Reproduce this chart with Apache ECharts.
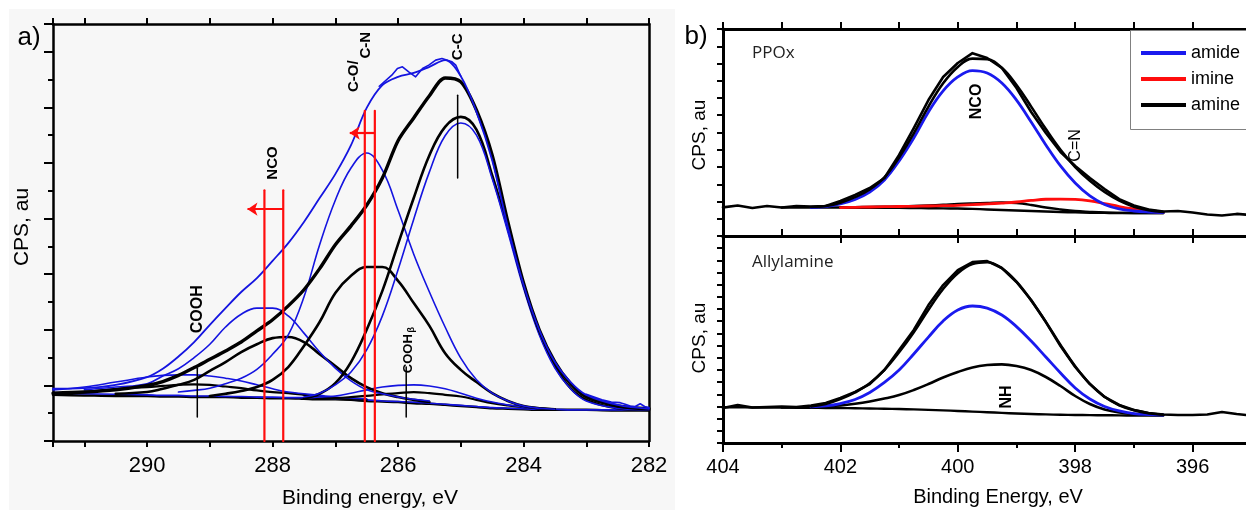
<!DOCTYPE html>
<html><head><meta charset="utf-8">
<script src="https://cdn.jsdelivr.net/npm/echarts@6/dist/echarts.min.js"></script>
<style>html,body{margin:0;padding:0;background:#fff}#c{width:1246px;height:510px}</style>
</head><body><div id="c"></div>
<script>
// ---------------- Panel a (C 1s) ----------------
const A_X = [291.5,291,290.5,290,289.75,289.5,289.25,289,288.75,288.5,288.25,288,287.75,287.5,287.25,287,286.75,286.5,286.25,286,285.75,285.5,285.25,285,284.75,284.5,284.25,284,283.75,283.5,283.25,283,282.5,282];
const A_TICKS = [290,288,286,284,282];
const A_BG_K = [0.83,0.82,0.81,0.81,0.80,0.80,0.79,0.79,0.79,0.78,0.78,0.77,0.77,0.76,0.75,0.75,0.74,0.72,0.71,0.70,0.68,0.67,0.65,0.63,0.61,0.59,0.58,0.57,0.56,0.56,0.56,0.56,0.55,0.55];
const A_BG_B = [0.87,0.85,0.84,0.83,0.82,0.82,0.81,0.81,0.80,0.80,0.79,0.79,0.78,0.78,0.77,0.76,0.75,0.74,0.72,0.71,0.70,0.68,0.66,0.64,0.62,0.60,0.59,0.58,0.57,0.57,0.56,0.56,0.56,0.56];
const A_CC_K = [null,null,null,null,null, null,null,null,null,null, null,null,null,
  0.77,0.85,1.04,1.42,2.0,2.70,3.54,4.37,5.14,5.65,5.83,5.60,4.78,3.83,2.82,1.96,1.35,0.95,0.74,0.59,0.56];
const A_CC_B = [null,null,null,null,null, null,null,null,null,null, null,null,null,
  0.79,0.86,1.01,1.24,1.64,2.25,3.08,3.99,4.84,5.49,5.72,5.50,4.72,3.76,2.75,1.91,1.31,0.94,0.72,0.59,0.56];
const A_CO_B = [null,null,null,null,null,
  0.88,0.91,0.95,1.03,1.13,1.29,1.56,1.91,2.59,3.53,4.33,4.91,5.18,4.87,4.15,3.36,2.68,2.05,1.49,1.10,0.86,0.72,0.63,0.59,0.57,
  null,null,null,null];
const A_CO_K = [null,null,null,null,null, null,null,
  0.81,0.85,0.90,0.97,1.10,1.33,1.71,2.14,2.66,2.97,3.13,3.13,2.88,2.48,2.07,1.58,1.28,1.06,0.86,0.72,0.63,0.59,0.57,
  null,null,null,null];
const A_NCO_B = [null,
  0.92,0.97,1.03,1.17,1.30,1.50,1.74,2.05,2.28,2.39,2.39,2.25,1.94,1.60,1.31,1.08,0.92,0.85,0.79,0.75,0.72,
  null,null,null,null,null, null,null,null,null,null, null,null];
const A_NCO_K = [null,null,
  0.85,0.88,0.94,1.01,1.10,1.26,1.42,1.60,1.74,1.85,1.87,1.78,1.56,1.35,1.13,0.97,0.86,0.79,0.74,0.70,
  null,null,null,null,null, null,null,null,null,null, null,null];
const A_COOH_B = [0.92,0.97,1.06,1.15,1.18,1.19,1.19,1.17,1.13,1.08,1.01,0.94,0.88,0.85,0.82,0.79,0.77,0.76,
  null,null,null,null,null, null,null,null,null,null, null,null,null,null,null, null];
const A_COOH_K = [0.85,0.88,0.94,0.97,0.99,1.01,1.02,1.01,0.98,0.95,0.91,0.88,0.86,0.83,0.80,0.77,0.75,0.74,
  null,null,null,null,null, null,null,null,null,null, null,null,null,null,null, null];
const A_COOHB_B = [null,null,null,null,null, null,null,null,null,null, null,null,null,
  0.77,0.79,0.81,0.86,0.92,0.97,1.00,1.01,0.99,0.94,0.86,0.77,0.70,0.65,0.61,0.59,0.57,
  null,null,null,null];
const A_COOHB_K = [null,null,null,null,null, null,null,null,null,null, null,null,null,
  0.76,0.76,0.77,0.79,0.81,0.84,0.86,0.88,0.86,0.83,0.80,0.74,0.68,0.64,0.61,0.59,0.57,
  null,null,null,null];
const A_ENV_B = [0.94,0.95,1.01,1.15,1.30,1.52,1.78,2.09,2.39,2.68,2.93,3.24,3.56,3.94,4.37,4.80,5.32,5.99,6.40,6.55,6.62,6.73,6.85,6.56,5.92,5.05,3.85,2.81,2.00,1.42,1.06,0.83,0.65,0.58];
const A_ENV_K = [0.86,0.88,0.92,1.0,1.07,1.18,1.32,1.47,1.62,1.78,1.98,2.18,2.43,2.72,3.10,3.53,3.87,4.24,4.73,5.40,5.81,6.21,6.53,6.46,5.95,5.14,3.94,2.84,2.00,1.42,1.03,0.79,0.63,0.58];
const A_NOISE_X = [286.3,286.1,286.01,285.93,285.83,285.72,285.61,285.51,285.4,285.3,285.14,285.08,285.0];
const A_NOISE_Y = [6.38,6.58,6.70,6.73,6.64,6.55,6.70,6.76,6.85,6.88,6.82,6.76,6.56];
const A_TAIL_X = [283.0,282.75,282.6,282.46,282.38,282.3,282.22,282.14,282.07,282.0];
const A_TAIL_Y = [0.84,0.74,0.70,0.69,0.66,0.63,0.62,0.67,0.62,0.60];
// red shift markers: x, top y
const A_RED_X = [288.13,287.83,286.53,286.37];
const A_RED_TOP = [4.51,4.51,5.94,5.94];
// arrows: from x, to x, y
const A_ARROW_FROM = [287.83,286.37];
const A_ARROW_TO = [288.40,286.77];
const A_ARROW_Y = [4.17,5.54];
// black position lines: x, y0, y1
const A_POS_X = [285.05,289.2,285.87];
const A_POS_Y0 = [4.73,0.43,0.43];
const A_POS_Y1 = [6.22,1.31,1.33];

// ---------------- Panel b (N 1s) ----------------
const B_X = [404,403.75,403.5,403.25,403,402.75,402.5,402.25,402,401.75,401.5,401.25,401,400.75,400.5,400.25,400,399.75,399.5,399.25,399,398.75,398.5,398.25,398,397.75,397.5,397.25,397,396.75,396.5,396.25,396,395.75,395.5,395.25,395];
const B_TICKS = [404,402,400,398,396];
const B_LEGEND = ['amide','imine','amine'];
const B1_DATA = [1.66,1.77,1.62,1.74,1.65,1.74,1.71,1.74,2.03,2.38,2.78,3.36,4.70,6.26,7.88,9.22,10.03,10.60,10.32,9.74,8.58,7.19,5.97,4.87,4.06,3.36,2.72,2.14,1.77,1.54,1.42,1.45,1.36,1.25,1.19,1.28,1.22];
const B1_FIT = [null,null,null,null,null, null,
  1.68,1.74,1.93,2.25,2.70,3.40,4.55,5.95,7.50,8.85,9.80,10.28,10.25,9.75,8.75,7.50,6.20,5.00,4.00,3.20,2.55,2.05,1.70,1.50,1.40,
  null,null,null,null,null, null];
const B1_AMIDE = [null,null,null,null,null, null,
  1.65,1.71,1.86,2.12,2.55,3.25,4.35,5.68,7.19,8.41,9.22,9.59,9.45,8.87,7.88,6.61,5.28,4.06,3.07,2.32,1.83,1.57,1.45,1.39,1.36,
  null,null,null,null,null, null];
const B1_IMINE = [null,null,null,null,null, null,null,null,
  1.65,1.66,1.68,1.70,1.71,1.72,1.74,1.76,1.78,1.82,1.86,1.91,1.97,2.06,2.13,2.14,2.12,2.03,1.88,1.71,1.57,1.45,1.37,
  null,null,null,null,null, null];
const B1_AMINE = [null,null,null,null,null, null,null,null,
  1.65,1.67,1.69,1.70,1.71,1.74,1.77,1.81,1.86,1.89,1.91,1.94,1.91,1.80,1.65,1.54,1.45,1.40,1.36,1.34,1.33,1.33,1.33,
  null,null,null,null,null, null];
const B1_BG = [null,null,null,null,
  1.65,1.65,1.65,1.65,1.65,1.64,1.64,1.63,1.63,1.62,1.61,1.60,1.59,1.57,1.54,1.51,1.48,1.45,1.42,1.39,1.37,1.35,1.34,1.33,1.33,1.33,1.33,
  null,null,null,null,null, null];
const B2_DATA = [2.87,3.12,2.91,2.96,3.00,2.96,3.08,3.28,3.69,4.19,4.84,5.99,7.64,9.28,11.33,12.97,14.20,14.86,14.94,14.37,13.22,11.74,9.93,7.96,6.24,4.84,3.78,3.12,2.71,2.46,2.34,2.30,2.30,2.34,2.55,2.38,2.26];
const B2_FIT = [null,null,null,null,null, null,
  3.00,3.20,3.60,4.15,4.90,6.00,7.45,9.10,10.95,12.65,13.95,14.70,14.85,14.35,13.25,11.70,9.95,8.05,6.30,4.85,3.80,3.10,2.70,2.45,2.32,
  null,null,null,null,null, null];
const B2_AMIDE = [null,null,null,null,null, null,
  2.96,3.04,3.24,3.57,4.15,4.97,5.99,7.31,8.70,10.02,10.92,11.25,11.08,10.51,9.56,8.37,7.06,5.75,4.52,3.61,3.00,2.63,2.42,2.34,2.30,
  null,null,null,null,null, null];
const B2_NH = [null,null,null,null,
  2.91,2.93,2.96,3.01,3.08,3.22,3.41,3.65,3.94,4.35,4.84,5.38,5.83,6.20,6.40,6.46,6.32,5.99,5.42,4.68,3.86,3.20,2.75,2.50,2.38,2.33,2.30,
  null,null,null,null,null, null];
const B2_BG = [2.93,2.93,2.92,2.92,2.91,2.90,2.89,2.88,2.87,2.85,2.83,2.81,2.79,2.76,2.72,2.68,2.63,2.58,2.53,2.47,2.42,2.38,2.35,2.32,2.30,2.29,2.28,2.27,2.26,2.26,2.26,
  null,null,null,null,null, null];

// ---------------- chart ----------------
const F = '"Liberation Sans", Arial, sans-serif';
const BLUE_A = '#1414e0', BLUE_B = '#1a1aee', RED = '#ff0d0d', BLK = '#000';
const chart = echarts.init(document.getElementById('c'));

function pts(xs, ys){ const o=[]; for(let i=0;i<xs.length;i++){ if(ys[i]!=null) o.push([xs[i], ys[i]]); } return o; }
function ln(name, xs, ys, color, width, xi, yi, smooth, z){
  return {type:'line', name:name, data:pts(xs,ys), xAxisIndex:xi, yAxisIndex:yi, symbol:'none', showSymbol:false,
    smooth:smooth, lineStyle:{color:color, width:width, cap:'round', join:'round'}, itemStyle:{color:color}, z:z||2, silent:true};
}
const axLine = w => ({show:true, onZero:false, lineStyle:{color:BLK, width:w}});
const tick = (len, inside, w) => ({show:true, inside:!!inside, length:len, lineStyle:{color:BLK, width:w||2}});
const noLab = {show:false};
const noSplit = {show:false};

const series = [];
series.push(ln('a-bgk', A_X, A_BG_K, BLK, 2.5, 0, 0, 0.3));
series.push(ln('a-bgb', A_X, A_BG_B, BLUE_A, 1.6, 0, 0, 0.3));
series.push(ln('a-cook', A_X, A_COOH_K, BLK, 2.2, 0, 0, 0.4));
series.push(ln('a-coob', A_X, A_COOH_B, BLUE_A, 1.6, 0, 0, 0.4));
series.push(ln('a-coobk', A_X, A_COOHB_K, BLK, 2.2, 0, 0, 0.4));
series.push(ln('a-coobb', A_X, A_COOHB_B, BLUE_A, 1.6, 0, 0, 0.4));
series.push(ln('a-ncok', A_X, A_NCO_K, BLK, 2.6, 0, 0, 0.4));
series.push(ln('a-ncob', A_X, A_NCO_B, BLUE_A, 1.6, 0, 0, 0.4));
series.push(ln('a-cok', A_X, A_CO_K, BLK, 2.6, 0, 0, 0.4));
series.push(ln('a-cob', A_X, A_CO_B, BLUE_A, 1.6, 0, 0, 0.4));
series.push(ln('a-cck', A_X, A_CC_K, BLK, 2.6, 0, 0, 0.4));
series.push(ln('a-ccb', A_X, A_CC_B, BLUE_A, 1.6, 0, 0, 0.4));
series.push(ln('a-envk', A_X, A_ENV_K, BLK, 3.4, 0, 0, 0.3));
series.push(ln('a-envb', A_X, A_ENV_B, BLUE_A, 1.8, 0, 0, 0.35));
series.push(ln('a-noise', A_NOISE_X, A_NOISE_Y, BLUE_A, 1.6, 0, 0, false));
series.push(ln('a-tail', A_TAIL_X, A_TAIL_Y, BLUE_A, 1.6, 0, 0, false));
for (let i=0;i<A_POS_X.length;i++){
  series.push(ln('a-pos'+i, [A_POS_X[i],A_POS_X[i]], [A_POS_Y0[i],A_POS_Y1[i]], BLK, 1.5, 0, 0, false, 5));
}
for (let i=0;i<A_RED_X.length;i++){
  series.push(ln('a-red'+i, [A_RED_X[i],A_RED_X[i]], [0,A_RED_TOP[i]], RED, 2.2, 0, 0, false, 6));
}
series.push({type:'line', name:'a-arrows', data:[[A_ARROW_FROM[0], A_ARROW_Y[0]]], symbol:'none', showSymbol:false,
  lineStyle:{width:0, opacity:0}, xAxisIndex:0, yAxisIndex:0, silent:true, z:6,
  markLine:{silent:true, animation:false, symbol:['none','arrow'], symbolSize:10, label:{show:false},
    lineStyle:{color:RED, width:2.2, type:'solid'}, itemStyle:{color:RED},
    data: A_ARROW_Y.map((y,i)=>[{coord:[A_ARROW_FROM[i], y]},{coord:[A_ARROW_TO[i], y]}])}});

series.push(ln('b1-bg', B_X, B1_BG, BLK, 2.4, 2, 3, 0.3));
series.push(ln('amine', B_X, B1_AMINE, BLK, 2.4, 2, 3, 0.4));
series.push(ln('imine', B_X, B1_IMINE, RED, 2.8, 2, 3, 0.4, 3));
series.push(ln('amide', B_X, B1_AMIDE, BLUE_B, 2.8, 2, 3, 0.4, 3));
series.push(ln('b1-fit', B_X, B1_FIT, BLK, 2.6, 2, 3, 0.4, 4));
series.push(ln('b1-data', B_X, B1_DATA, BLK, 2.6, 2, 3, false, 4));
series.push(ln('b2-bg', B_X, B2_BG, BLK, 2.4, 5, 4, 0.3));
series.push(ln('amine', B_X, B2_NH, BLK, 2.6, 5, 4, 0.4));
series.push(ln('amide', B_X, B2_AMIDE, BLUE_B, 2.8, 5, 4, 0.4, 3));
series.push(ln('b2-fit', B_X, B2_FIT, BLK, 2.6, 5, 4, 0.4, 4));
series.push(ln('b2-data', B_X, B2_DATA, BLK, 2.6, 5, 4, false, 4));

const option = {
  animation:false,
  backgroundColor:'#ffffff',
  grid:[
    {left:53, top:24, width:596, height:417, outerBoundsMode:'none', containLabel:false},
    {left:723, top:29, width:587, height:207, outerBoundsMode:'none', containLabel:false},
    {left:723, top:236, width:587, height:207, outerBoundsMode:'none', containLabel:false}
  ],
  legend:{data:B_LEGEND, orient:'vertical', left:1141, top:44, padding:0,
    itemWidth:45, itemHeight:4, itemGap:8, icon:'rect', selectedMode:false, z:10,
    textStyle:{fontFamily:F, fontSize:18, color:BLK}},
  xAxis:[
    {gridIndex:0, type:'value', position:'bottom', min:282, max:291.5, interval:1, inverse:true,
      axisLine:axLine(2.5), axisTick:tick(6), splitLine:noSplit,
      axisLabel:{formatter:v => (A_TICKS.indexOf(v) >= 0 ? String(v) : ''), fontFamily:F, fontSize:22, color:BLK, margin:14}},
    {gridIndex:0, type:'value', position:'top', min:282, max:291.5, interval:1, inverse:true,
      axisLine:axLine(2.5), axisTick:tick(6), splitLine:noSplit, axisLabel:noLab},
    {gridIndex:1, type:'value', position:'top', min:394, max:404, interval:1, inverse:true,
      axisLine:axLine(3), axisTick:tick(7), splitLine:noSplit, axisLabel:noLab},
    {gridIndex:1, type:'value', position:'bottom', min:394, max:404, interval:1, inverse:true,
      axisLine:axLine(3), axisTick:tick(7, true), splitLine:noSplit, axisLabel:noLab},
    {gridIndex:2, type:'value', position:'top', min:394, max:404, interval:2, inverse:true,
      axisLine:axLine(3), axisTick:tick(7, true), splitLine:noSplit, axisLabel:noLab},
    {gridIndex:2, type:'value', position:'bottom', min:394, max:404, interval:2, inverse:true,
      axisLine:axLine(3), axisTick:tick(9), splitLine:noSplit,
      axisLabel:{formatter:v => (B_TICKS.indexOf(v) >= 0 ? String(v) : ''), fontFamily:F, fontSize:20, color:BLK, margin:14}},
    {gridIndex:2, type:'value', position:'bottom', min:394, max:404, interval:1, inverse:true,
      axisLine:{show:false, onZero:false}, axisTick:tick(5), splitLine:noSplit, axisLabel:noLab}
  ],
  yAxis:[
    {gridIndex:0, type:'value', position:'left', min:0, max:7.5, interval:1,
      axisLine:axLine(2.5), axisTick:tick(9), splitLine:noSplit, axisLabel:noLab},
    {gridIndex:0, type:'value', position:'left', min:0, max:7.5, interval:0.5,
      axisLine:{show:false, onZero:false}, axisTick:tick(5), splitLine:noSplit, axisLabel:noLab},
    {gridIndex:0, type:'value', position:'right', min:0, max:7.5,
      axisLine:axLine(2.5), axisTick:{show:false}, splitLine:noSplit, axisLabel:noLab},
    {gridIndex:1, type:'value', position:'left', min:0, max:12, interval:1,
      axisLine:axLine(3), axisTick:tick(6), splitLine:noSplit, axisLabel:noLab},
    {gridIndex:2, type:'value', position:'left', min:0, max:17, interval:1,
      axisLine:axLine(3), axisTick:tick(6), splitLine:noSplit, axisLabel:noLab}
  ],
  series:series
};
chart.setOption(option);

const R = Math.PI/2;
function txt(text, x, y, size, opts){
  opts = opts || {};
  return {type:'text', x:x, y:y, rotation:opts.rot||0, z:100, silent:true,
    style:{text:text, fill:opts.color||BLK, font:(opts.bold?'bold ':'')+size+'px '+(opts.family||F),
      align:opts.align||'center', verticalAlign:'middle'}};
}
function pA(x,y){ return chart.convertToPixel({xAxisIndex:0, yAxisIndex:0}, [x,y]); }
function pB1(x,y){ return chart.convertToPixel({xAxisIndex:2, yAxisIndex:3}, [x,y]); }
function pB2(x,y){ return chart.convertToPixel({xAxisIndex:5, yAxisIndex:4}, [x,y]); }

const g = [];
g.push({type:'rect', shape:{x:9, y:9, width:666, height:501}, style:{fill:'#f7f7f7'}, z:-100, silent:true});
// legend frame (extends past the right edge like the original)
g.push({type:'rect', shape:{x:1130.5, y:30.5, width:140, height:99}, style:{fill:'#fff', stroke:'#808080', lineWidth:1}, z:8, silent:true});
let p;
p = pA(287.99, 5.0);  g.push(txt('NCO', p[0], p[1], 15, {bold:true, rot:R}));
p = pA(289.2, 2.37);  g.push(txt('COOH', p[0], p[1], 16, {bold:true, rot:R}));
p = pA(286.70, 6.56); g.push(txt('C-O/', p[0], p[1], 15, {bold:true, rot:R}));
p = pA(286.51, 7.12); g.push(txt('C-N', p[0], p[1], 15, {bold:true, rot:R}));
p = pA(285.05, 7.09); g.push(txt('C-C', p[0], p[1], 15, {bold:true, rot:R}));
p = pA(285.84, 1.57); g.push(txt('COOH', p[0], p[1], 13, {bold:true, rot:R}));
p = pA(285.79, 2.0);  g.push(txt('β', p[0], p[1], 9, {bold:true, rot:R}));
p = pB1(399.68, 7.8); g.push(txt('NCO', p[0], p[1], 16, {bold:true, rot:R}));
p = pB1(398.0, 5.25); g.push(txt('C=N', p[0], p[1], 16, {bold:false, rot:R}));
p = pB2(399.17, 3.78); g.push(txt('NH', p[0], p[1], 16, {bold:true, rot:R}));
g.push(txt('a)', 29, 38, 26));
g.push(txt('CPS, au', 22, 227, 21, {rot:R}));
g.push(txt('Binding energy, eV', 370, 498, 21));
g.push(txt('b)', 696, 37, 26));
g.push(txt('CPS, au', 700, 135, 19, {rot:R}));
g.push(txt('CPS, au', 700, 338, 19, {rot:R}));
g.push(txt('Binding Energy, eV', 998, 497, 20));
g.push(txt('PPOx', 752, 53, 17, {align:'left', color:'#222', family:'"Open Sans", sans-serif'}));
g.push(txt('Allylamine', 752, 262, 17, {align:'left', color:'#222', family:'"Open Sans", sans-serif'}));
chart.setOption({graphic:g});
</script></body></html>
